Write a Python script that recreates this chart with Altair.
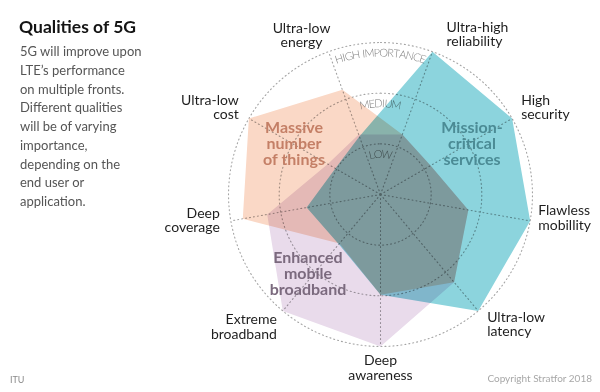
import math
import altair as alt
import pandas as pd

# ---------------- data ----------------
AXES = ["Ultra-low\nenergy", "Ultra-high\nreliability", "High\nsecurity", "Flawless\nmobillity",
        "Ultra-low\nlatency", "Deep\nawareness", "Extreme\nbroadband", "Deep\ncoverage", "Ultra-low\ncost"]

SERIES = ["Massive\nnumber\nof things", "Mission-\ncritical\nservices", "Enhanced\nmobile\nbroadband"]
MASSIVE = [2.2, 1.26, 1.14, 1.76, 2.26, 1.98, 1.26, 2.76, 3.0]
MISSION = [1.22, 3.0, 3.0, 3.0, 3.0, 1.98, 1.28, 1.48, 1.03]
EMBB = [1.26, 1.26, 1.14, 1.76, 2.26, 3.0, 3.0, 2.27, 1.2]

LEVELS = ["LOW", "MEDIUM", "HIGH IMPORTANCE"]
LEVEL_VALUES = [1, 2, 3]

TITLE = "Qualities of 5G"
BODY = ["5G will improve upon", "LTE\u2019s performance", "on multiple fronts.",
        "Different qualities", "will be of varying", "importance,",
        "depending on the", "end user or", "application."]
SOURCE = "ITU"
CREDIT = "Copyright Stratfor 2018"

# ---------------- layout / style ----------------
W, H = 584, 376
PPU = 152 / 3.0
CX, CY = 372.5, 186.5
XDOM = [-CX / PPU, (W - CX) / PPU]
YDOM = [-(H - CY) / PPU, CY / PPU]
START, STEP = 340, 40

FILLS = ["#fad8c6", "#8cd4dd", "#e9dbeb"]
TEXT_COLORS = ["#c47f66", "#4b8b95", "#7b6a7e"]
SERIES_POS = [(286, 136), (464, 135.5), (300, 265.5)]   # block centres, px
SERIES_LH = 16

# label offsets (align, dx px, dy px) of the block centre relative to the outer ring end of each spoke
LABEL_LAYOUT = [("center", -27, -15.5), ("left", 14, -16.5), ("left", 9, -10.5), ("left", 8, -2.5),
                ("left", 9, 14), ("center", 0, 22), ("right", -6, 16.5), ("right", -11, 0),
                ("right", -10, -10.5)]
LABEL_LH = 14.5

FONT = "Lato"
GRID = "#a4a4a4"


def xs(field):
    return alt.X(field, type="quantitative", scale=alt.Scale(domain=XDOM, nice=False, zero=False), axis=None)


def ys(field):
    return alt.Y(field, type="quantitative", scale=alt.Scale(domain=YDOM, nice=False, zero=False), axis=None)


def bearing(i):
    return math.radians(START + STEP * i)


# ---------------- grid ----------------
ring_rows = []
for lv in LEVEL_VALUES:
    for t in range(0, 361, 3):
        ring_rows.append({"level": lv, "t": t})
rings = (alt.Chart(pd.DataFrame(ring_rows))
         .transform_calculate(px="datum.level * sin(datum.t * PI / 180)",
                              py="datum.level * cos(datum.t * PI / 180)")
         .mark_line(color=GRID, strokeWidth=1.1, strokeDash=[1, 3], strokeCap="round")
         .encode(x=xs("px"), y=ys("py"), detail="level:N", order="t:Q"))

spoke_df = pd.DataFrame({"i": list(range(len(AXES)))})
spokes = (alt.Chart(spoke_df)
          .transform_calculate(ang=f"({START} + {STEP} * datum.i) * PI / 180")
          .transform_calculate(ex=f"{max(LEVEL_VALUES)} * sin(datum.ang)",
                               ey=f"{max(LEVEL_VALUES)} * cos(datum.ang)", z="0")
          .mark_rule(color=GRID, strokeWidth=1.1, strokeDash=[1, 3], strokeCap="round")
          .encode(x=xs("z"), y=ys("z"), x2="ex:Q", y2="ey:Q"))

# ---------------- polygons ----------------
polys = []
for vals, fill in zip([MASSIVE, MISSION, EMBB], FILLS):
    df = pd.DataFrame({"i": list(range(len(AXES))), "v": vals})
    polys.append(
        alt.Chart(df)
        .transform_calculate(ang=f"({START} + {STEP} * datum.i) * PI / 180")
        .transform_calculate(px="datum.v * sin(datum.ang)", py="datum.v * cos(datum.ang)")
        .mark_line(interpolate="linear-closed", fill=fill, fillOpacity=1, strokeOpacity=0,
                   strokeWidth=0, blend="multiply")
        .encode(x=xs("px"), y=ys("py"), order="i:Q")
    )

# ---------------- curved level labels ----------------
W_EM = {"H": 0.74, "I": 0.30, "G": 0.74, "M": 0.90, "P": 0.62, "O": 0.80, "R": 0.64, "T": 0.60,
        "A": 0.68, "N": 0.76, "C": 0.70, "E": 0.58, "D": 0.76, "U": 0.74, "L": 0.52, "W": 1.0, " ": 0.28}
LFS = 11
char_rows = []
for name, lv in zip(LEVELS, LEVEL_VALUES):
    rpx = lv * PPU - 11
    widths = [W_EM.get(c, 0.65) * LFS * 0.88 for c in name]
    total = sum(widths)
    s = -total / 2
    for c, w in zip(name, widths):
        mid = s + w / 2
        phi = mid / rpx
        char_rows.append({"c": c, "px": rpx / PPU * math.sin(phi), "py": rpx / PPU * math.cos(phi),
                          "rot": (math.degrees(phi) + 360) % 360})
        s += w
level_text = (alt.Chart(pd.DataFrame(char_rows))
              .mark_text(font=FONT, fontSize=LFS, fontWeight=300, color="#808080",
                         align="center", baseline="middle", blend="multiply")
              .encode(x=xs("px"), y=ys("py"), text="c:N", angle=alt.Angle("rot:Q", scale=None)))

# ---------------- axis labels ----------------
lab_rows = []
for i, (lab, (al, ox, oy)) in enumerate(zip(AXES, LABEL_LAYOUT)):
    b = bearing(i)
    n = lab.count("\n") + 1
    oy_first = oy - (n - 1) * LABEL_LH / 2.0     # first line centre
    lab_rows.append({"label": lab, "al": al,
                     "lx": 3 * math.sin(b) + ox / PPU, "ly": 3 * math.cos(b) - oy_first / PPU})
lab_df = pd.DataFrame(lab_rows)
axis_labels = []
for al in ["left", "center", "right"]:
    axis_labels.append(
        alt.Chart(lab_df[lab_df["al"] == al])
        .mark_text(font=FONT, fontSize=14, color="#1e1e1e", align=al, baseline="middle",
                   lineBreak="\n", lineHeight=LABEL_LH)
        .encode(x=xs("lx"), y=ys("ly"), text="label:N")
    )

# ---------------- series labels ----------------
series_labels = []
for name, col, (sx, sy) in zip(SERIES, TEXT_COLORS, SERIES_POS):
    n = name.count("\n") + 1
    series_labels.append(
        alt.Chart(pd.DataFrame({"t": [name]}))
        .mark_text(font=FONT, fontSize=16, fontWeight="bold", color=col, align="center",
                   baseline="middle", lineBreak="\n", lineHeight=SERIES_LH)
        .encode(text="t:N", x=alt.value(sx), y=alt.value(sy - (n - 1) * SERIES_LH / 2.0))
    )

# ---------------- left text ----------------
title = (alt.Chart(pd.DataFrame({"t": [TITLE]}))
         .mark_text(font=FONT, fontSize=17.5, fontWeight="bold", color="#141414", align="left",
                    baseline="alphabetic")
         .encode(text="t:N", x=alt.value(11), y=alt.value(25)))
body = (alt.Chart(pd.DataFrame({"t": ["\n".join(BODY)]}))
        .mark_text(font=FONT, fontSize=13, color="#555555", align="left", baseline="middle",
                   lineBreak="\n", lineHeight=18.75)
        .encode(text="t:N", x=alt.value(12), y=alt.value(44)))
source = (alt.Chart(pd.DataFrame({"t": [SOURCE]}))
          .mark_text(font=FONT, fontSize=9, color="#8a8a8a", align="left", baseline="middle")
          .encode(text="t:N", x=alt.value(2), y=alt.value(372)))
credit = (alt.Chart(pd.DataFrame({"t": [CREDIT]}))
          .mark_text(font=FONT, fontSize=10, color="#a8a8a8", align="right", baseline="middle")
          .encode(text="t:N", x=alt.value(584), y=alt.value(371)))

chart = alt.layer(
    rings, spokes, *polys, level_text, *axis_labels, *series_labels, title, body, source, credit
).properties(
    width=W, height=H, autosize=alt.AutoSizeParams(type="none"), padding=0, background="white"
).configure_view(stroke=None)

chart.save("out.html", embed_options={"renderer": "svg", "actions": False})
